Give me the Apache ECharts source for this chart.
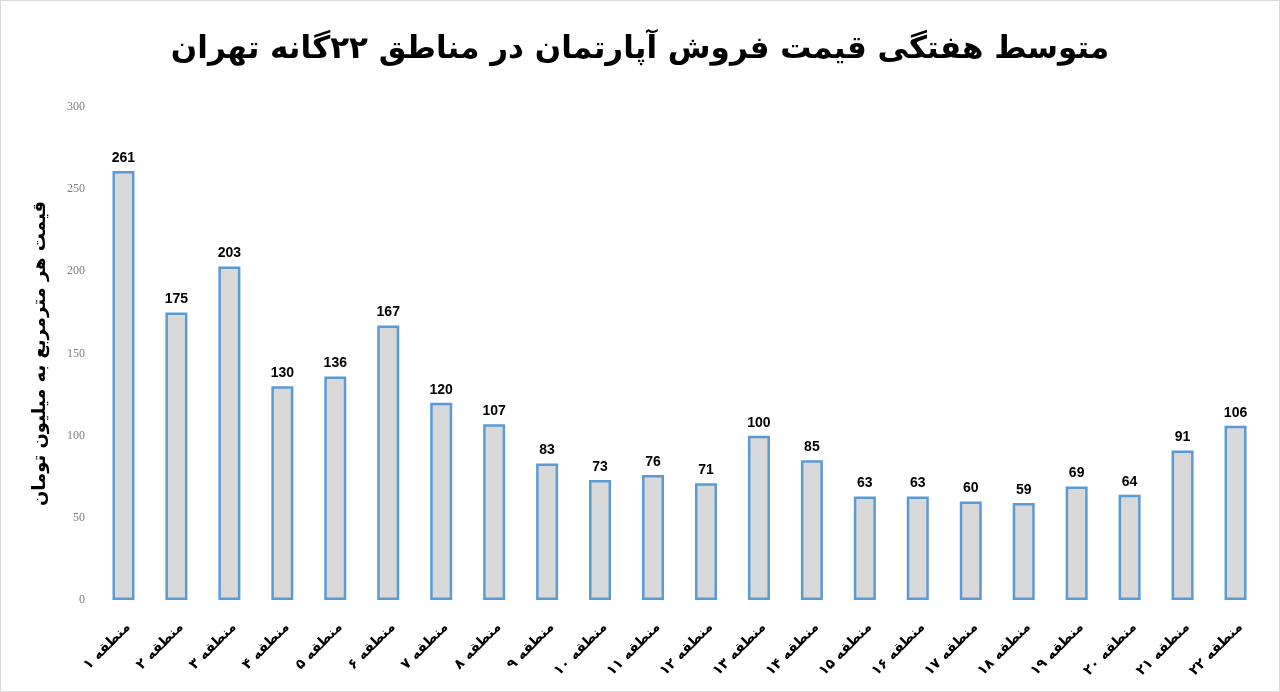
<!DOCTYPE html>
<html><head><meta charset="utf-8">
<script src="https://cdn.jsdelivr.net/npm/echarts@6/dist/echarts.min.js"></script>
<style>html,body{margin:0;padding:0;background:#fff}#c{width:1280px;height:692px;box-sizing:border-box;border:1px solid #d9d9d9}</style>
</head><body><div id="c"></div>
<script>
const titleText = 'متوسط هفتگی قیمت فروش آپارتمان در مناطق ۲۲گانه تهران';
const yAxisName = 'قیمت هر مترمربع به میلیون تومان';
const categories = ['منطقه ۱','منطقه ۲','منطقه ۳','منطقه ۴','منطقه ۵','منطقه ۶','منطقه ۷','منطقه ۸','منطقه ۹','منطقه ۱۰','منطقه ۱۱','منطقه ۱۲','منطقه ۱۳','منطقه ۱۴','منطقه ۱۵','منطقه ۱۶','منطقه ۱۷','منطقه ۱۸','منطقه ۱۹','منطقه ۲۰','منطقه ۲۱','منطقه ۲۲'];
const values = [261,175,203,130,136,167,120,107,83,73,76,71,100,85,63,63,60,59,69,64,91,106];
const yTicks = {min:0, max:300, interval:50};

const chart = echarts.init(document.getElementById('c'));
chart.setOption({
  animation:false,
  title:{text:titleText,left:'center',top:28,textStyle:{fontFamily:'DejaVu Sans',fontSize:31,fontWeight:'bold',color:'#000'}},
  grid:{left:96,right:17,top:106,bottom:91,containLabel:false},
  xAxis:{type:'category',data:categories,axisLine:{show:false},axisTick:{show:false},
    axisLabel:{rotate:45,interval:0,margin:20,verticalAlign:'top',fontFamily:'DejaVu Sans',fontSize:14,fontWeight:'bold',color:'#000'}},
  yAxis:{type:'value',min:yTicks.min,max:yTicks.max,interval:yTicks.interval,splitLine:{show:false},axisLine:{show:false},axisTick:{show:false},
    axisLabel:{fontFamily:'Liberation Serif',fontSize:12,color:'#7f7f7f',margin:12},
    name:yAxisName,nameLocation:'middle',nameRotate:90,nameGap:48,
    nameTextStyle:{fontFamily:'DejaVu Sans',fontSize:18,fontWeight:'bold',color:'#000'}},
  series:[{type:'bar',data:values,barWidth:22,
    itemStyle:{color:'#d9d9d9',borderColor:'#5b9bd5',borderWidth:2.5},
    label:{show:true,position:'top',distance:6,fontFamily:'Liberation Sans',fontSize:14,fontWeight:'bold',color:'#000'}}]
});
</script></body></html>
